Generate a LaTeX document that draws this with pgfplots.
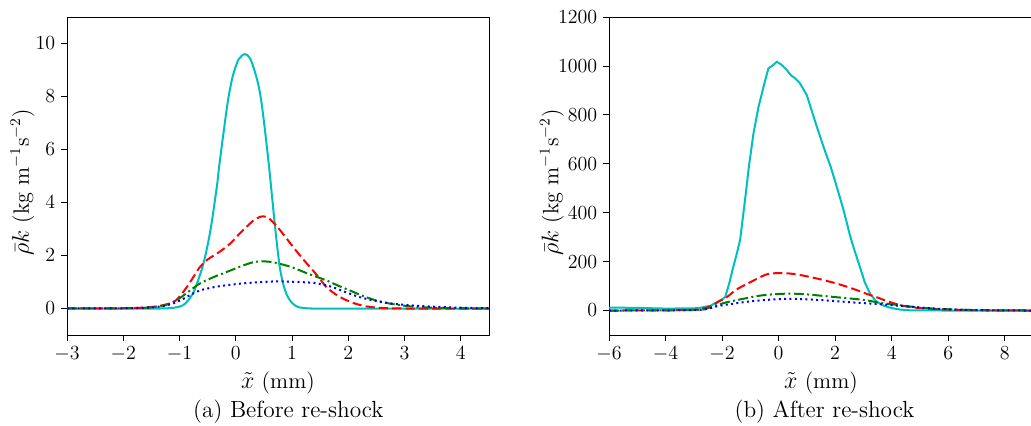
\documentclass[border=0pt]{standalone}
\usepackage{pgfplots}
\pgfplotsset{compat=1.18}
\definecolor{mplc}{rgb}{0,0.75,0.75}
\definecolor{mplg}{rgb}{0,0.5,0}
\begin{document}
\begin{tikzpicture}
\pgfplotsset{
  every axis/.append style={
    scale only axis,
    tick align=outside,
    xtick pos=bottom, ytick pos=left,
    major tick length=3.5pt,
    every tick/.style={black, line width=0.5pt},
    axis line style={line width=0.5pt},
    ylabel={$\bar{\rho}k$ (kg m$^{-1}$s$^{-2}$)},
    xlabel={$\tilde{x}$ (mm)},
    /pgf/number format/1000 sep={},
    tick label style={font=\fontsize{11.5}{13}\selectfont},
    every axis x label/.style={at={(axis description cs:0.5,0)}, anchor=center, yshift=-28.8pt, font=\fontsize{13.3}{15}\selectfont},
  },
  cyanl/.style={mplc, line width=1.2pt},
  redl/.style={red, line width=1.2pt, dash pattern=on 5.5pt off 2.5pt},
  greenl/.style={mplg, line width=1.2pt, dash pattern=on 6pt off 2pt on 1.2pt off 2pt},
  bluel/.style={blue, line width=1.2pt, dash pattern=on 1.2pt off 2pt},
}
\begin{axis}[
  at={(40.2pt,54pt)}, anchor=south west,
  width=253.2pt, height=190.8pt,
  xmin=-3, xmax=4.5, ymin=-1, ymax=11,
  xtick={-3,-2,...,4}, ytick={0,2,...,10},
  every axis y label/.style={at={(axis description cs:-0.1055,0.48)}, rotate=90, anchor=center, font=\fontsize{13.3}{15}\selectfont},
]
\addplot[cyanl, smooth, tension=0.5] coordinates {
(-3,0) (-1.6,0) (-1.35,0) (-1.2,0.01) (-1.1,0.03) (-1.0,0.07) (-0.93,0.13) (-0.85,0.3)
(-0.76,0.57) (-0.68,1.0) (-0.59,1.58) (-0.52,2.2) (-0.46,2.84) (-0.41,3.5) (-0.37,4.1)
(-0.33,4.7) (-0.295,5.37) (-0.22,6.6) (-0.136,7.89) (-0.05,8.8) (0.05,9.4) (0.16,9.6)
(0.25,9.45) (0.33,9.0) (0.4,8.45) (0.455,7.8) (0.52,6.7) (0.59,5.37) (0.65,4.1) (0.71,2.84)
(0.78,1.58) (0.84,0.95) (0.9,0.55) (0.96,0.32) (1.03,0.15) (1.1,0.06) (1.2,0.02)
(1.35,0) (1.6,0) (4.5,0)};
\addplot[redl, smooth] coordinates {
(-3,0) (-2,0.01) (-1.6,0.04) (-1.35,0.1) (-1.11,0.24) (-1.0,0.45) (-0.87,0.81)
(-0.75,1.2) (-0.64,1.56) (-0.5,1.85) (-0.28,2.15) (-0.1,2.45) (0.07,2.83) (0.2,3.1)
(0.35,3.38) (0.49,3.48) (0.6,3.38) (0.75,3.05) (0.9,2.65) (1.02,2.32) (1.2,1.85)
(1.37,1.44) (1.5,1.1) (1.61,0.81) (1.75,0.57) (1.91,0.37) (2.1,0.2) (2.32,0.08)
(2.6,0.02) (3.0,0) (4.5,0)};
\addplot[greenl, smooth] coordinates {
(-3,0) (-2,0.01) (-1.6,0.03) (-1.4,0.07) (-1.23,0.14) (-1.08,0.28) (-0.93,0.49)
(-0.8,0.7) (-0.64,0.94) (-0.4,1.18) (-0.16,1.38) (0.1,1.6) (0.3,1.74) (0.46,1.78)
(0.65,1.75) (0.85,1.65) (1.02,1.54) (1.3,1.3) (1.61,1.06) (1.8,0.88) (2.03,0.68)
(2.25,0.48) (2.5,0.30) (2.75,0.18) (2.97,0.11) (3.3,0.05) (3.7,0.02) (4.5,0)};
\addplot[bluel, smooth] coordinates {
(-3,0) (-2,0.01) (-1.6,0.03) (-1.4,0.06) (-1.23,0.12) (-1.08,0.22) (-0.93,0.37)
(-0.8,0.52) (-0.64,0.68) (-0.4,0.8) (-0.16,0.88) (0.2,0.96) (0.66,1.02) (1.0,1.01)
(1.37,0.97) (1.55,0.9) (1.73,0.8) (1.95,0.62) (2.2,0.43) (2.5,0.28) (2.8,0.18)
(3.1,0.12) (3.39,0.08) (3.7,0.05) (3.98,0.03) (4.5,0.01)};
\end{axis}
\begin{axis}[
  at={(365.4pt,54pt)}, anchor=south west,
  width=254.4pt, height=190.8pt,
  xmin=-6, xmax=9, ymin=-100, ymax=1200,
  xtick={-6,-4,...,8}, ytick={0,200,...,1200},
  every axis y label/.style={at={(axis description cs:-0.1344,0.48)}, rotate=90, anchor=center, font=\fontsize{13.3}{15}\selectfont},
]
\addplot[cyanl] coordinates {
(-6,12) (-5,11) (-4,8) (-3,9) (-2.78,11) (-2.4,20) (-2.19,34) (-2.0,46) (-1.89,55)
(-1.75,110) (-1.6,180) (-1.48,232) (-1.36,290) (-1.19,450) (-1.05,590) (-0.89,723)
(-0.71,833) (-0.5,930) (-0.36,990) (-0.2,1003) (-0.06,1017) (0.1,1005) (0.29,983)
(0.45,960) (0.55,953) (0.75,930) (1.0,880) (1.3,770) (1.59,669) (1.85,585) (2.06,505)
(2.3,410) (2.53,305) (2.7,240) (2.88,177) (3.05,115) (3.24,68) (3.45,38) (3.71,20)
(4.0,10) (4.3,4) (4.65,1) (6,0) (9,0)};
\addplot[redl, smooth] coordinates {
(-6,0) (-4,1) (-3,3) (-2.78,6) (-2.4,18) (-2.1,38) (-1.83,55) (-1.5,85) (-1.0,116)
(-0.42,148) (0.06,153) (0.5,150) (1.0,140) (1.5,127) (1.94,114) (2.4,98) (2.8,82)
(3.12,68) (3.48,54) (3.85,38) (4.3,22) (4.6,15) (5.0,10) (5.6,6) (6.4,3) (7.5,1) (9,0)};
\addplot[greenl, smooth] coordinates {
(-6,0) (-3,2) (-2.5,10) (-2.1,25) (-1.83,34) (-1.25,48) (-0.6,62) (0.06,68) (0.5,69)
(1.0,66) (1.47,61) (2.0,55) (2.65,48) (3.1,42) (3.48,34) (3.9,27) (4.42,20) (5.0,12)
(5.8,6) (7,2) (9,0)};
\addplot[bluel, smooth] coordinates {
(-6,0) (-3,2) (-2.5,8) (-2.07,20) (-1.6,28) (-1.25,34) (-0.6,42) (0.3,48) (1.0,46)
(1.6,42) (2.3,36) (2.9,31) (3.48,27) (4.0,22) (4.65,16) (5.4,9) (6.4,3) (7.5,1) (9,0)};
\end{axis}
\node[font=\fontsize{14}{16}\selectfont] at (173pt,7.8pt) {(a) Before re-shock};
\node[font=\fontsize{14}{16}\selectfont] at (494.7pt,7.8pt) {(b) After re-shock};
\pgfresetboundingbox
\path (0,0) rectangle (618.6pt,255pt);
\end{tikzpicture}
\end{document}
